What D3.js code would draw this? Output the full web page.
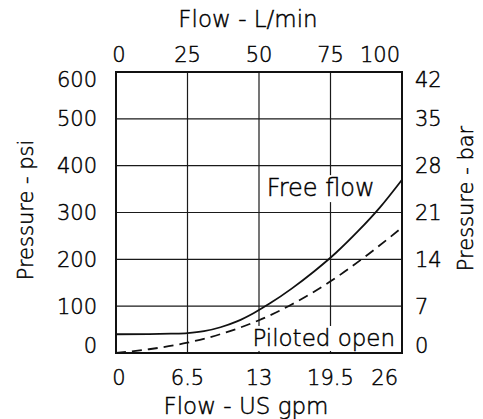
<!DOCTYPE html>
<html>
<head>
<meta charset="utf-8">
<script src="https://cdn.jsdelivr.net/npm/d3@7"></script>
<style>
  html, body { margin: 0; padding: 0; background: #fff; }
  svg { display: block; }
  text { font-family: "DejaVu Sans", sans-serif; fill: #000; font-weight: 200; stroke: #000; stroke-width: 0.45; }
</style>
</head>
<body>
<svg id="chart" width="483" height="419"></svg>
<script>
// ---- data ----
const gpmTicks = [0, 6.5, 13, 19.5, 26];
const lpmTicks = [0, 25, 50, 75, 100];
const psiTicks = [0, 100, 200, 300, 400, 500, 600];
const barTicks = [0, 7, 14, 21, 28, 35, 42];

const freeFlowGpm = [0, 3, 5, 6.5, 8, 9.5, 11, 12.5, 14, 16, 18, 20, 22, 24, 26];
const freeFlowPsi = [40, 40.3, 41.2, 42.5, 46.5, 55, 67.5, 85, 106, 138, 174, 214, 260, 311, 370];

const pilotedGpm = [0, 3, 6.5, 10, 13, 16, 19.5, 23, 26];
const pilotedPsi = [0, 8, 22, 44, 70, 104, 153, 212, 268];

const labels = { xBottom: "Flow - US gpm", xTop: "Flow - L/min", yLeft: "Pressure - psi", yRight: "Pressure - bar" };
const seriesNames = ["Free flow", "Piloted open"];

// ---- layout ----
const L = 116, R = 402, T = 72, B = 353;
const svg = d3.select("#chart");

const x = d3.scaleLinear().domain([0, 26]).range([L, R]);
const xTop = d3.scaleLinear().domain([0, 100]).range([L, R]);
const y = d3.scaleLinear().domain([0, 600]).range([B, T]);
const yBar = d3.scaleLinear().domain([0, 42]).range([B, T]);

// grid
svg.append("g").selectAll("line").data(gpmTicks.slice(1, -1)).join("line")
  .attr("x1", d => x(d)).attr("x2", d => x(d)).attr("y1", T).attr("y2", B)
  .attr("stroke", "#1a1a1a").attr("stroke-width", 1.2);
svg.append("g").selectAll("line").data(psiTicks.slice(1, -1)).join("line")
  .attr("x1", L).attr("x2", R).attr("y1", d => y(d)).attr("y2", d => y(d))
  .attr("stroke", "#1a1a1a").attr("stroke-width", 1.2);

// curves
const line = d3.line().x(d => x(d[0])).y(d => y(d[1])).curve(d3.curveMonotoneX);
svg.append("path").datum(freeFlowGpm.map((g, i) => [g, freeFlowPsi[i]]))
  .attr("d", line).attr("fill", "none").attr("stroke", "#111").attr("stroke-width", 1.8);
svg.append("path").datum(pilotedGpm.map((g, i) => [g, pilotedPsi[i]]))
  .attr("d", line).attr("fill", "none").attr("stroke", "#111").attr("stroke-width", 1.8)
  .attr("stroke-dasharray", "10,6");

// series labels with white backgrounds
function boxedLabel(txt, gx, py, size) {
  const g = svg.append("g");
  const t = g.append("text").attr("x", x(gx)).attr("y", y(py)).attr("font-size", size).text(txt);
  const bb = t.node().getBBox();
  g.insert("rect", "text").attr("x", bb.x - 2).attr("y", bb.y + 1).attr("width", bb.width + 4).attr("height", bb.height - 1).attr("fill", "#fff");
}
boxedLabel(seriesNames[0], 13.7, 335, 24);
boxedLabel(seriesNames[1], 12.4, 15, 23);

// frame
svg.append("rect").attr("x", L).attr("y", T).attr("width", R - L).attr("height", B - T)
  .attr("fill", "none").attr("stroke", "#111").attr("stroke-width", 2);

// axes tick labels
const fs = 21;
svg.append("g").selectAll("text").data(gpmTicks).join("text")
  .attr("x", (d, i) => x(d) + (i === 0 ? 3 : 0))
  .attr("y", 385).attr("font-size", fs)
  .attr("text-anchor", (d, i) => i === gpmTicks.length - 1 ? "end" : "middle")
  .attr("dx", (d, i) => i === gpmTicks.length - 1 ? -4 : 0)
  .text(d => d);
svg.append("g").selectAll("text").data(lpmTicks).join("text")
  .attr("x", (d, i) => xTop(d) + (i === 0 ? 3 : 0))
  .attr("y", 62).attr("font-size", fs)
  .attr("text-anchor", (d, i) => i === lpmTicks.length - 1 ? "end" : "middle")
  .attr("dx", (d, i) => i === lpmTicks.length - 1 ? -2 : 0)
  .text(d => d);
function yOff(i, n) { return i === 0 ? 0 : (i === n - 1 ? 15 : 7.5); }
svg.append("g").selectAll("text").data(psiTicks).join("text")
  .attr("x", 97).attr("y", (d, i) => y(d) + yOff(i, psiTicks.length))
  .attr("font-size", fs).attr("text-anchor", "end").text(d => d);
svg.append("g").selectAll("text").data(barTicks).join("text")
  .attr("x", 415).attr("y", (d, i) => yBar(d) + yOff(i, barTicks.length))
  .attr("font-size", fs).attr("text-anchor", "start").text(d => d);

// axis titles
svg.append("text").attr("x", 248).attr("y", 27).attr("font-size", 23).attr("text-anchor", "middle").text(labels.xTop);
svg.append("text").attr("x", 246).attr("y", 414).attr("font-size", 23).attr("text-anchor", "middle").text(labels.xBottom);
svg.append("text").attr("transform", "translate(33,210) rotate(-90)").attr("font-size", 21).attr("text-anchor", "middle").text(labels.yLeft);
svg.append("text").attr("transform", "translate(473,198.5) rotate(-90)").attr("font-size", 21).attr("text-anchor", "middle").text(labels.yRight);
</script>
</body>
</html>
